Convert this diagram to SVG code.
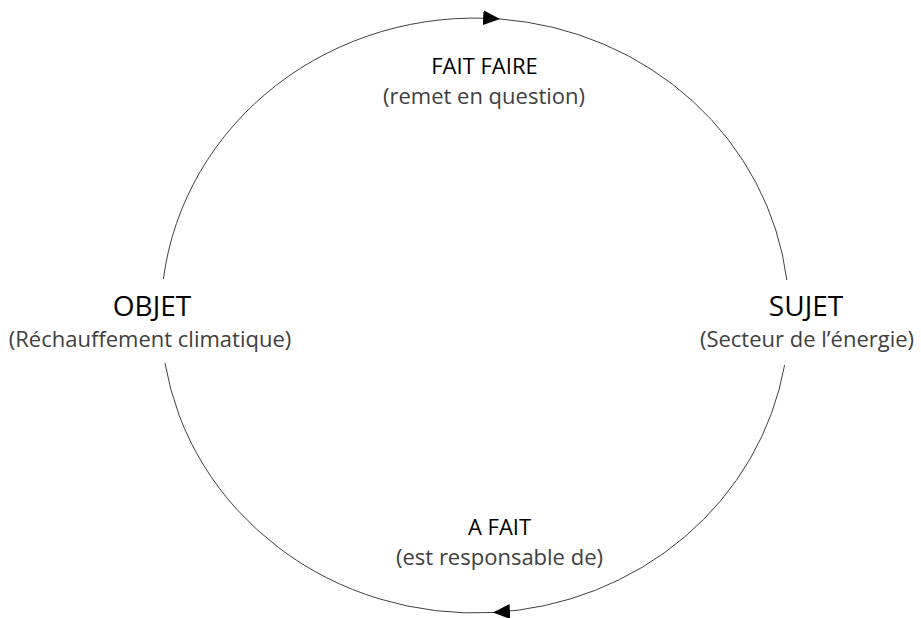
<svg xmlns="http://www.w3.org/2000/svg" width="921" height="618" viewBox="0 0 921 618">
  <style>
    text { font-family: "Open Sans", "Noto Sans", sans-serif; text-anchor: middle; }
    .title { font-size: 28px; fill: #000; }
    .sub { font-size: 22px; fill: #404040; }
    .ltitle { font-size: 22px; fill: #000; }
    .lsub { font-size: 22px; fill: #404040; }
    .arc { fill: none; stroke: #404040; stroke-width: 1; }
  </style>
  <defs>
    <marker id="arrow" markerUnits="userSpaceOnUse" markerWidth="17" markerHeight="15" refX="17" refY="7.5" orient="auto">
      <path d="M0,0 L17,7.5 L0,15 z" fill="#000"/>
    </marker>
  </defs>

  <!-- cycle connectors: upper arc (objet -> sujet), lower arc (sujet -> objet) -->
  <g id="connectors">
    <path class="arc" d="M163.4,279 A314,297.5 0 0 1 500,19" marker-end="url(#arrow)"/>
    <path class="arc" d="M500,19 A314,297.5 0 0 1 786.8,280"/>
    <path class="arc" d="M784.6,365 A314,297.5 0 0 1 493,612.5" marker-end="url(#arrow)"/>
    <path class="arc" d="M493,612.5 A314,297.5 0 0 1 165,363"/>
  </g>

  <g id="objet">
    <text class="title" x="152" y="316">OBJET</text>
    <text class="sub" x="150" y="347">(Réchauffement climatique)</text>
  </g>

  <g id="sujet">
    <text class="title" x="806" y="316">SUJET</text>
    <text class="sub" x="807" y="347">(Secteur de l’énergie)</text>
  </g>

  <g id="fait-faire">
    <text class="ltitle" x="484.5" y="74">FAIT FAIRE</text>
    <text class="lsub" x="484" y="104">(remet en question)</text>
  </g>

  <g id="a-fait">
    <text class="ltitle" x="499.5" y="535">A FAIT</text>
    <text class="lsub" x="499.5" y="565">(est responsable de)</text>
  </g>
</svg>
